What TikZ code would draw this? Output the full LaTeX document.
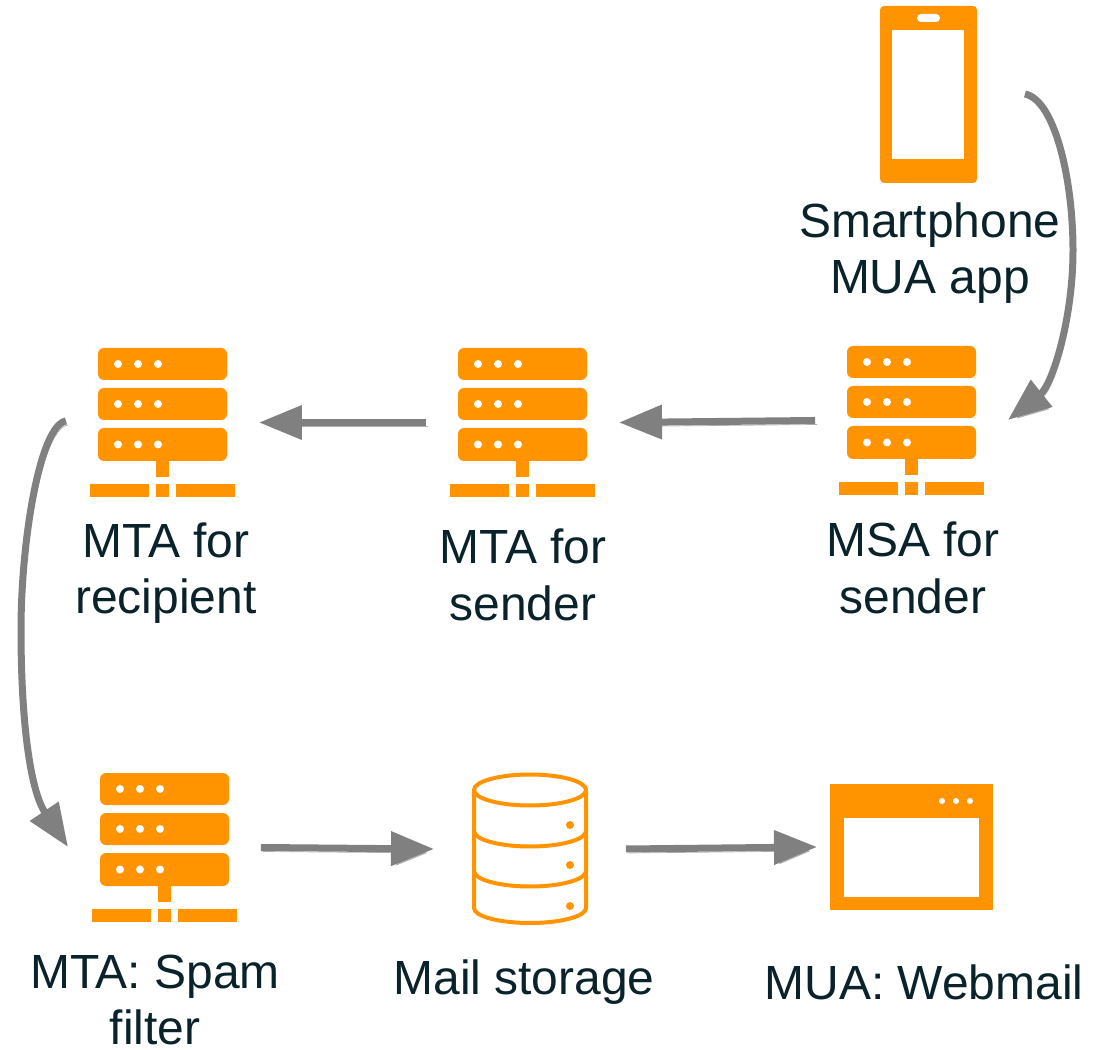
\documentclass[tikz,border=0pt]{standalone}
\usepackage{fontspec}
\setmainfont{Liberation Sans}
\usetikzlibrary{arrows.meta}
\definecolor{iconcolor}{RGB}{255, 148, 0}
\definecolor{flowcolor}{RGB}{128, 128, 128}
\definecolor{labelcolor}{RGB}{10, 34, 41}

\tikzset{
  iconbox/.style={inner sep=0pt, outer sep=0.48cm},
  caption/.style={text=labelcolor, align=center, inner sep=0pt, font=\fontsize{27.3}{32.2}\selectfont},
  flow/.style={-{Triangle[length=0.86cm, width=0.66cm]}, flowcolor, line width=0.14cm,
    preaction={draw=black!30, transform canvas={shift={(0.04cm,-0.08cm)}}}},
  servericon/.pic={
    \fill[iconcolor, rounded corners=0.12cm] (-64.5,-74.5) rectangle (64.5,-42.5);
    \fill[iconcolor, rounded corners=0.12cm] (-64.5,-34.5) rectangle (64.5,-2.5);
    \fill[iconcolor, rounded corners=0.12cm] (-64.5,5.5) rectangle (64.5,38.5);
    \fill[iconcolor] (-6.5,38) rectangle (6.5,54.5);
    \fill[iconcolor] (-72.5,61.5) rectangle (-13.5,74.5);
    \fill[iconcolor] (-6.5,61.5) rectangle (6.5,74.5);
    \fill[iconcolor] (13.5,61.5) rectangle (72.5,74.5);
    \fill[white] (-44.5,-58.5) circle (4) (-24.5,-58.5) circle (4) (-4.5,-58.5) circle (4);
    \fill[white] (-44.5,-18.5) circle (4) (-24.5,-18.5) circle (4) (-4.5,-18.5) circle (4);
    \fill[white] (-44.5,22) circle (4) (-24.5,22) circle (4) (-4.5,22) circle (4);
  },
  phoneicon/.pic={
    \fill[iconcolor, rounded corners=0.08cm] (-48.5,-88.5) rectangle (48.5,88.5);
    \fill[white] (-36.5,-64.5) rectangle (35.5,64.5);
    \fill[white, rounded corners=0.08cm] (-11.5,-80.5) rectangle (11.5,-72.5);
  },
  storeicon/.pic={
    \draw[iconcolor, line width=0.08cm] (-56,-59) -- (-56,59)
      arc[start angle=180, end angle=360, x radius=56, y radius=-15] -- (56,-59);
    \draw[iconcolor, line width=0.08cm] (0,-59) ellipse [x radius=56, y radius=15.5];
    \draw[iconcolor, line width=0.08cm] (-56,-18) arc[start angle=180, end angle=360, x radius=56, y radius=-15.5];
    \draw[iconcolor, line width=0.08cm] (-56,22) arc[start angle=180, end angle=360, x radius=56, y radius=-15.5];
    \fill[iconcolor] (40,-24) circle (4) (40,16) circle (4) (40,57) circle (4);
  },
  webicon/.pic={
    \fill[iconcolor] (-81.5,-63) rectangle (81.5,63);
    \fill[white] (-67.5,-29) rectangle (67.5,50);
    \fill[white] (30.5,-46) circle (3) (44.5,-46) circle (3) (58.5,-46) circle (3);
  },
}

\begin{document}
\begin{tikzpicture}[x=0.02cm, y=-0.02cm, line cap=butt]
  \useasboundingbox (0,0) rectangle (1106,1050);

  % Icons
  \node[iconbox, minimum width=1.94cm, minimum height=3.54cm] (phone) at (928.5,94.5) {};
  \pic at (phone) {phoneicon};
  \node[iconbox, minimum width=2.9cm, minimum height=3cm] (msa) at (911.5,420.5) {};
  \pic at (msa) {servericon};
  \node[iconbox, minimum width=2.9cm, minimum height=3cm] (mtasend) at (522.5,422.5) {};
  \pic at (mtasend) {servericon};
  \node[iconbox, minimum width=2.9cm, minimum height=3cm] (mtarecv) at (162.5,422.5) {};
  \pic at (mtarecv) {servericon};
  \node[iconbox, minimum width=2.9cm, minimum height=3cm] (spam) at (164.5,847.5) {};
  \pic at (spam) {servericon};
  \node[iconbox, outer sep=0.76cm, minimum width=2.32cm, minimum height=3.04cm] (store) at (530,849) {};
  \pic at (store) {storeicon};
  \node[iconbox, outer sep=0.26cm, minimum width=3.26cm, minimum height=2.52cm] (webmail) at (911.5,847) {};
  \pic at (webmail) {webicon};

  % Captions
  \node[caption] (phonetext) at (930,253) {Smartphone\\MUA app};
  \node[caption] (msatext) at (913,568) {MSA for\\sender};
  \node[caption] (mtasendtext) at (523,575) {MTA for\\sender};
  \node[caption] (mtarecvtext) at (166,573) {MTA for\\recipient};
  \node[caption] (spamtext) at (155,1000) {MTA: Spam\\filter};
  \node[caption] (storetext) at (524,982) {Mail storage};
  \node[caption] (webmailtext) at (924,982) {MUA: Webmail};

  % Free ends of the curved arrows
  \coordinate (phoneout) at (1025,94);
  \coordinate (msain) at (1008,420);
  \coordinate (recvout) at (66,421);
  \coordinate (spamin) at (68,847);

  % Mail flow
  \draw[flow] (phoneout) .. controls (1055,100) and (1073,180) .. (1073,250)
    .. controls (1073,320) and (1052,385) .. (msain);
  \draw[flow] (msa.west) -- (mtasend.east);
  \draw[flow] (mtasend.west) -- (mtarecv.east);
  \draw[flow] (recvout) .. controls (40,425) and (21,540) .. (21,630)
    .. controls (21,720) and (30,790) .. (spamin);
  \draw[flow] (spam.east) -- (store.west);
  \draw[flow] (store.east) -- (webmail.west);
\end{tikzpicture}
\end{document}
